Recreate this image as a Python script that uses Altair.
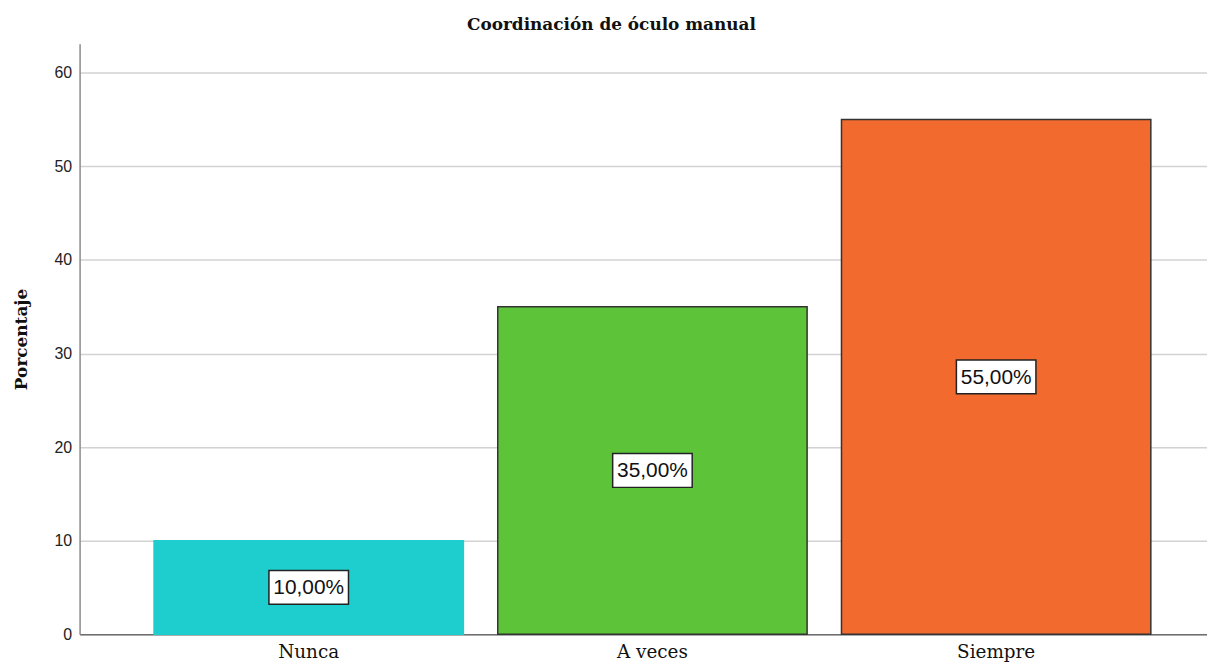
import altair as alt
import pandas as pd

categories = ["Nunca", "A veces", "Siempre"]
percentages = [10, 35, 55]
value_labels = ["10,00%", "35,00%", "55,00%"]
y_ticks = [0, 10, 20, 30, 40, 50, 60]

bar_colors = ["#1ECECE", "#5DC43A", "#F26A2E"]
bar_strokes = ["#1ECECE", "#333333", "#333333"]

df = pd.DataFrame({"cat": categories, "value": percentages, "label": value_labels})

x_enc = alt.X(
    "cat:N",
    sort=categories,
    title=None,
    scale=alt.Scale(paddingInner=0.1, paddingOuter=0.19, align=0.57),
    axis=alt.Axis(
        labelAngle=0,
        ticks=False,
        labelFont="DejaVu Serif",
        labelFontSize=18.5,
        labelColor="#111111",
        labelPadding=8,
        domainColor="#6e6e6e",
        domainWidth=1.5,
    ),
)

base = alt.Chart(df).transform_calculate(mid="datum.value / 2")

bars = base.mark_bar(strokeWidth=1.5).encode(
    x=x_enc,
    y=alt.Y(
        "value:Q",
        scale=alt.Scale(domain=[0, 63.1], nice=False),
        axis=alt.Axis(
            values=y_ticks,
            title="Porcentaje",
            titleFont="DejaVu Serif",
            titleFontSize=17,
            titleFontWeight="bold",
            titleColor="#111111",
            titlePadding=24,
            labelFont="Liberation Sans",
            labelFontSize=16,
            labelColor="#222222",
            labelPadding=8,
            ticks=False,
            domainColor="#8a8a8a",
            domainWidth=1.5,
            gridColor="#d2d2d2",
            gridWidth=1.5,
        ),
    ),
    color=alt.Color("cat:N", scale=alt.Scale(domain=categories, range=bar_colors), legend=None),
    stroke=alt.Stroke("cat:N", scale=alt.Scale(domain=categories, range=bar_strokes), legend=None),
)

boxes = base.mark_point(
    shape="M-1,-0.425L1,-0.425L1,0.425L-1,0.425Z",
    size=6400,
    filled=True,
    fill="white",
    stroke="#222222",
    strokeWidth=1.5,
    opacity=1,
    fillOpacity=1,
    strokeOpacity=1,
).encode(x=alt.X("cat:N", sort=categories), y=alt.Y("mid:Q"))

texts = base.mark_text(
    font="Liberation Sans", fontSize=21, color="#111111", baseline="middle", dy=1
).encode(x=alt.X("cat:N", sort=categories), y=alt.Y("mid:Q"), text="label:N")

chart = (
    alt.layer(bars, boxes, texts)
    .properties(
        width=1134,
        height=594,
        padding={"left": 4, "top": 6, "right": 0, "bottom": 0},
        title=alt.TitleParams(
            "Coordinación de óculo manual",
            font="DejaVu Serif",
            fontSize=17,
            fontWeight="bold",
            color="#111111",
            anchor="middle",
            dx=-32,
            offset=10,
        ),
    )
    .configure_view(stroke=None)
)

chart.save("out.html", embed_options={"renderer": "svg", "actions": False})
